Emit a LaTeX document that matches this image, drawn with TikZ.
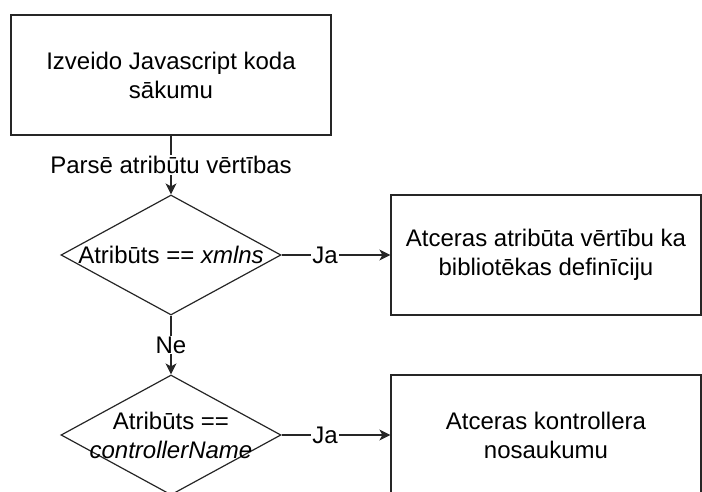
\documentclass[tikz,border=0pt]{standalone}
\usepackage{fontspec}
\setmainfont{Liberation Sans}
\usepackage{tikz}
\usetikzlibrary{shapes.geometric,arrows.meta}

\tikzset{
    teksts/.style={font=\fontsize{24}{29}\selectfont, align=center},
    bloks/.style={draw=black!85, line width=1.2pt, rectangle, inner sep=0pt,
        minimum height=120pt, teksts},
    rombs/.style={draw=black!85, line width=1.2pt, diamond, inner sep=0pt,
        minimum width=220pt, minimum height=120pt},
    savienojums/.style={draw=black!85, line width=1.2pt,
        -{Stealth[length=11pt,width=11pt,inset=3pt]}},
    uzraksts/.style={teksts, fill=white, inner sep=1pt}
}

\begin{document}
\begin{tikzpicture}[x=1pt,y=-1pt]

    % Attela robezas
    \useasboundingbox (0,0) rectangle (702,492);
    \clip (0,0) rectangle (702,492);

    % Bloki
    \node[bloks, minimum width=320pt] (sakums) at (171,75) {Izveido Javascript koda\\sākumu};
    \node[bloks, minimum width=310pt] (biblioteka) at (546,255) {Atceras atribūta vērtību ka\\bibliotēkas definīciju};
    \node[bloks, minimum width=310pt] (kontrolleris) at (546,435) {Atceras kontrollera\\nosaukumu};

    % Nosacijumi
    \node[rombs, label={[teksts]center:Atribūts == \textit{xmlns}}] (xmlns) at (171,255) {};
    \node[rombs, label={[teksts]center:{Atribūts ==\\\textit{controllerName}}}] (nosaukums) at (171,435) {};

    % Savienojumi
    \draw[savienojums] (sakums) -- node[uzraksts] {Parsē atribūtu vērtības} (xmlns);
    \draw[savienojums] (xmlns) -- node[uzraksts, pos=0.4] {Ja} (biblioteka);
    \draw[savienojums] (xmlns) -- node[uzraksts] {Ne} (nosaukums);
    \draw[savienojums] (nosaukums) -- node[uzraksts, pos=0.4] {Ja} (kontrolleris);

\end{tikzpicture}
\end{document}
